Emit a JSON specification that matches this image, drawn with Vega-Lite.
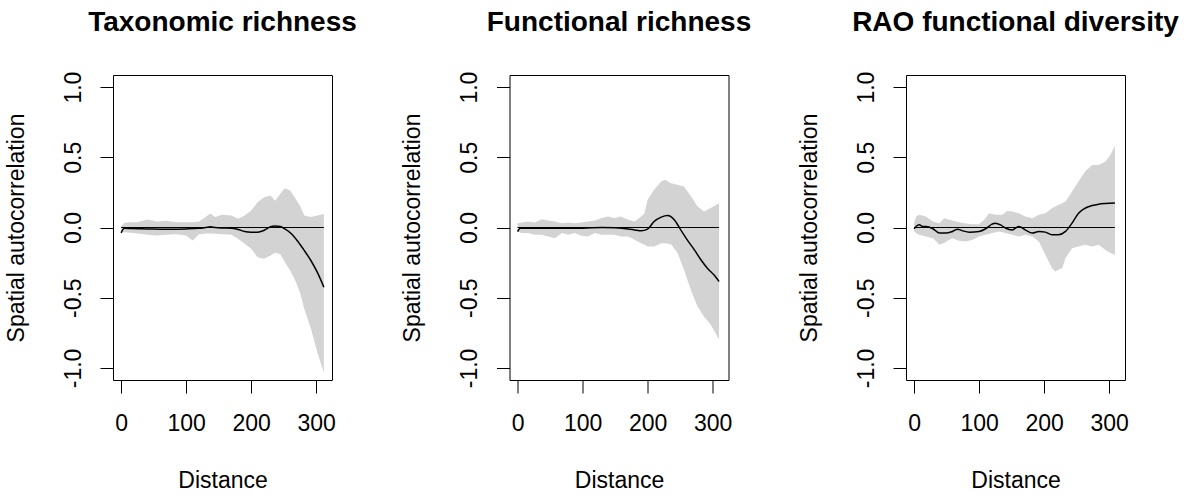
{
  "$schema": "https://vega.github.io/schema/vega-lite/v6.json",
  "background": "white",
  "padding": {"left": 4, "top": 8, "right": 5, "bottom": 5},
  "config": {
    "view": {"stroke": "black", "strokeWidth": 1},
    "font": "Liberation Sans",
    "axis": {
      "grid": false, "domain": false, "tickColor": "black", "tickWidth": 1, "tickSize": 13,
      "labelColor": "black", "titleColor": "black", "labelFont": "Liberation Sans", "titleFont": "Liberation Sans",
      "labelFontSize": 23, "titleFontSize": 23, "titleFontWeight": "normal", "labelFlush": false, "labelOverlap": false
    }
  },
  "datasets": {
    "band": [
      {"panel": "T", "distance": 0, "lower": -0.038, "upper": 0.01},
      {"panel": "T", "distance": 5, "lower": -0.033, "upper": 0.033},
      {"panel": "T", "distance": 15, "lower": -0.038, "upper": 0.038},
      {"panel": "T", "distance": 25, "lower": -0.043, "upper": 0.038},
      {"panel": "T", "distance": 40, "lower": -0.052, "upper": 0.057},
      {"panel": "T", "distance": 55, "lower": -0.057, "upper": 0.043},
      {"panel": "T", "distance": 70, "lower": -0.052, "upper": 0.048},
      {"panel": "T", "distance": 85, "lower": -0.048, "upper": 0.038},
      {"panel": "T", "distance": 100, "lower": -0.057, "upper": 0.038},
      {"panel": "T", "distance": 110, "lower": -0.093, "upper": 0.038},
      {"panel": "T", "distance": 120, "lower": -0.048, "upper": 0.043},
      {"panel": "T", "distance": 130, "lower": -0.043, "upper": 0.074},
      {"panel": "T", "distance": 137, "lower": -0.043, "upper": 0.1},
      {"panel": "T", "distance": 145, "lower": -0.045, "upper": 0.074},
      {"panel": "T", "distance": 155, "lower": -0.048, "upper": 0.09},
      {"panel": "T", "distance": 170, "lower": -0.052, "upper": 0.086},
      {"panel": "T", "distance": 180, "lower": -0.081, "upper": 0.062},
      {"panel": "T", "distance": 190, "lower": -0.116, "upper": 0.086},
      {"panel": "T", "distance": 200, "lower": -0.152, "upper": 0.12},
      {"panel": "T", "distance": 210, "lower": -0.211, "upper": 0.18},
      {"panel": "T", "distance": 220, "lower": -0.223, "upper": 0.216},
      {"panel": "T", "distance": 230, "lower": -0.2, "upper": 0.228},
      {"panel": "T", "distance": 237, "lower": -0.18, "upper": 0.19},
      {"panel": "T", "distance": 245, "lower": -0.19, "upper": 0.24},
      {"panel": "T", "distance": 252, "lower": -0.247, "upper": 0.28},
      {"panel": "T", "distance": 260, "lower": -0.306, "upper": 0.264},
      {"panel": "T", "distance": 267, "lower": -0.366, "upper": 0.216},
      {"panel": "T", "distance": 275, "lower": -0.46, "upper": 0.157},
      {"panel": "T", "distance": 282, "lower": -0.58, "upper": 0.086},
      {"panel": "T", "distance": 292, "lower": -0.72, "upper": 0.074},
      {"panel": "T", "distance": 302, "lower": -0.89, "upper": 0.086},
      {"panel": "T", "distance": 312, "lower": -1.03, "upper": 0.097},

      {"panel": "F", "distance": 0, "lower": -0.029, "upper": 0.031},
      {"panel": "F", "distance": 6, "lower": -0.04, "upper": 0.036},
      {"panel": "F", "distance": 16, "lower": -0.04, "upper": 0.043},
      {"panel": "F", "distance": 27, "lower": -0.052, "upper": 0.036},
      {"panel": "F", "distance": 37, "lower": -0.052, "upper": 0.059},
      {"panel": "F", "distance": 47, "lower": -0.064, "upper": 0.05},
      {"panel": "F", "distance": 57, "lower": -0.076, "upper": 0.043},
      {"panel": "F", "distance": 68, "lower": -0.04, "upper": 0.031},
      {"panel": "F", "distance": 78, "lower": -0.052, "upper": 0.036},
      {"panel": "F", "distance": 88, "lower": -0.04, "upper": 0.031},
      {"panel": "F", "distance": 98, "lower": -0.059, "upper": 0.036},
      {"panel": "F", "distance": 108, "lower": -0.064, "upper": 0.043},
      {"panel": "F", "distance": 119, "lower": -0.04, "upper": 0.05},
      {"panel": "F", "distance": 129, "lower": -0.052, "upper": 0.067},
      {"panel": "F", "distance": 139, "lower": -0.052, "upper": 0.078},
      {"panel": "F", "distance": 149, "lower": -0.052, "upper": 0.067},
      {"panel": "F", "distance": 159, "lower": -0.064, "upper": 0.078},
      {"panel": "F", "distance": 170, "lower": -0.064, "upper": 0.055},
      {"panel": "F", "distance": 180, "lower": -0.088, "upper": 0.043},
      {"panel": "F", "distance": 190, "lower": -0.112, "upper": 0.078},
      {"panel": "F", "distance": 195, "lower": -0.123, "upper": 0.1},
      {"panel": "F", "distance": 200, "lower": -0.135, "upper": 0.197},
      {"panel": "F", "distance": 210, "lower": -0.135, "upper": 0.268},
      {"panel": "F", "distance": 221, "lower": -0.112, "upper": 0.328},
      {"panel": "F", "distance": 227, "lower": -0.112, "upper": 0.34},
      {"panel": "F", "distance": 236, "lower": -0.12, "upper": 0.316},
      {"panel": "F", "distance": 246, "lower": -0.18, "upper": 0.304},
      {"panel": "F", "distance": 256, "lower": -0.3, "upper": 0.292},
      {"panel": "F", "distance": 267, "lower": -0.45, "upper": 0.22},
      {"panel": "F", "distance": 277, "lower": -0.565, "upper": 0.15},
      {"panel": "F", "distance": 287, "lower": -0.635, "upper": 0.114},
      {"panel": "F", "distance": 297, "lower": -0.69, "upper": 0.138},
      {"panel": "F", "distance": 310, "lower": -0.798, "upper": 0.173},

      {"panel": "R", "distance": 0, "lower": -0.028, "upper": 0.031},
      {"panel": "R", "distance": 3, "lower": -0.04, "upper": 0.078},
      {"panel": "R", "distance": 8, "lower": -0.052, "upper": 0.09},
      {"panel": "R", "distance": 18, "lower": -0.064, "upper": 0.078},
      {"panel": "R", "distance": 29, "lower": -0.076, "upper": 0.043},
      {"panel": "R", "distance": 39, "lower": -0.123, "upper": 0.031},
      {"panel": "R", "distance": 46, "lower": -0.11, "upper": 0.066},
      {"panel": "R", "distance": 54, "lower": -0.088, "upper": 0.055},
      {"panel": "R", "distance": 59, "lower": -0.076, "upper": 0.05},
      {"panel": "R", "distance": 69, "lower": -0.095, "upper": 0.038},
      {"panel": "R", "distance": 80, "lower": -0.1, "upper": 0.028},
      {"panel": "R", "distance": 90, "lower": -0.088, "upper": 0.024},
      {"panel": "R", "distance": 100, "lower": -0.064, "upper": 0.024},
      {"panel": "R", "distance": 110, "lower": -0.052, "upper": 0.066},
      {"panel": "R", "distance": 115, "lower": -0.046, "upper": 0.102},
      {"panel": "R", "distance": 120, "lower": -0.04, "upper": 0.097},
      {"panel": "R", "distance": 126, "lower": -0.034, "upper": 0.09},
      {"panel": "R", "distance": 131, "lower": -0.028, "upper": 0.09},
      {"panel": "R", "distance": 136, "lower": -0.034, "upper": 0.09},
      {"panel": "R", "distance": 143, "lower": -0.042, "upper": 0.118},
      {"panel": "R", "distance": 151, "lower": -0.052, "upper": 0.114},
      {"panel": "R", "distance": 161, "lower": -0.064, "upper": 0.102},
      {"panel": "R", "distance": 171, "lower": -0.052, "upper": 0.078},
      {"panel": "R", "distance": 182, "lower": -0.064, "upper": 0.066},
      {"panel": "R", "distance": 192, "lower": -0.1, "upper": 0.09},
      {"panel": "R", "distance": 202, "lower": -0.194, "upper": 0.102},
      {"panel": "R", "distance": 212, "lower": -0.289, "upper": 0.137},
      {"panel": "R", "distance": 217, "lower": -0.313, "upper": 0.15},
      {"panel": "R", "distance": 222, "lower": -0.3, "upper": 0.16},
      {"panel": "R", "distance": 228, "lower": -0.289, "upper": 0.173},
      {"panel": "R", "distance": 233, "lower": -0.218, "upper": 0.185},
      {"panel": "R", "distance": 243, "lower": -0.147, "upper": 0.256},
      {"panel": "R", "distance": 253, "lower": -0.135, "upper": 0.327},
      {"panel": "R", "distance": 263, "lower": -0.123, "upper": 0.398},
      {"panel": "R", "distance": 274, "lower": -0.135, "upper": 0.445},
      {"panel": "R", "distance": 284, "lower": -0.123, "upper": 0.445},
      {"panel": "R", "distance": 294, "lower": -0.159, "upper": 0.469},
      {"panel": "R", "distance": 302, "lower": -0.182, "upper": 0.517},
      {"panel": "R", "distance": 309, "lower": -0.194, "upper": 0.583}
    ],
    "line": [
      {"panel": "T", "distance": 0, "value": -0.038},
      {"panel": "T", "distance": 5, "value": -0.005},
      {"panel": "T", "distance": 15, "value": -0.008},
      {"panel": "T", "distance": 40, "value": -0.01},
      {"panel": "T", "distance": 70, "value": -0.012},
      {"panel": "T", "distance": 100, "value": -0.01},
      {"panel": "T", "distance": 120, "value": -0.006},
      {"panel": "T", "distance": 130, "value": 0.0},
      {"panel": "T", "distance": 137, "value": 0.005},
      {"panel": "T", "distance": 145, "value": 0.0},
      {"panel": "T", "distance": 155, "value": -0.003},
      {"panel": "T", "distance": 170, "value": -0.005},
      {"panel": "T", "distance": 180, "value": -0.014},
      {"panel": "T", "distance": 190, "value": -0.028},
      {"panel": "T", "distance": 200, "value": -0.033},
      {"panel": "T", "distance": 210, "value": -0.033},
      {"panel": "T", "distance": 220, "value": -0.02},
      {"panel": "T", "distance": 230, "value": 0.005},
      {"panel": "T", "distance": 237, "value": 0.01},
      {"panel": "T", "distance": 245, "value": 0.007},
      {"panel": "T", "distance": 252, "value": -0.01},
      {"panel": "T", "distance": 262, "value": -0.045},
      {"panel": "T", "distance": 272, "value": -0.1},
      {"panel": "T", "distance": 282, "value": -0.165},
      {"panel": "T", "distance": 292, "value": -0.235},
      {"panel": "T", "distance": 302, "value": -0.32},
      {"panel": "T", "distance": 312, "value": -0.425},

      {"panel": "F", "distance": 0, "value": -0.029},
      {"panel": "F", "distance": 4, "value": -0.005},
      {"panel": "F", "distance": 50, "value": -0.005},
      {"panel": "F", "distance": 100, "value": -0.005},
      {"panel": "F", "distance": 130, "value": 0.0},
      {"panel": "F", "distance": 150, "value": -0.002},
      {"panel": "F", "distance": 170, "value": -0.01},
      {"panel": "F", "distance": 180, "value": -0.017},
      {"panel": "F", "distance": 190, "value": -0.024},
      {"panel": "F", "distance": 200, "value": -0.012},
      {"panel": "F", "distance": 210, "value": 0.043},
      {"panel": "F", "distance": 221, "value": 0.074},
      {"panel": "F", "distance": 231, "value": 0.085},
      {"panel": "F", "distance": 241, "value": 0.055},
      {"panel": "F", "distance": 251, "value": -0.017},
      {"panel": "F", "distance": 261, "value": -0.088},
      {"panel": "F", "distance": 272, "value": -0.159},
      {"panel": "F", "distance": 282, "value": -0.23},
      {"panel": "F", "distance": 292, "value": -0.29},
      {"panel": "F", "distance": 302, "value": -0.337},
      {"panel": "F", "distance": 310, "value": -0.385},

      {"panel": "R", "distance": 0, "value": -0.009},
      {"panel": "R", "distance": 3, "value": 0.007},
      {"panel": "R", "distance": 8, "value": 0.019},
      {"panel": "R", "distance": 13, "value": 0.007},
      {"panel": "R", "distance": 18, "value": 0.007},
      {"panel": "R", "distance": 29, "value": -0.009},
      {"panel": "R", "distance": 39, "value": -0.04},
      {"panel": "R", "distance": 49, "value": -0.04},
      {"panel": "R", "distance": 59, "value": -0.028},
      {"panel": "R", "distance": 67, "value": -0.012},
      {"panel": "R", "distance": 75, "value": -0.024},
      {"panel": "R", "distance": 85, "value": -0.033},
      {"panel": "R", "distance": 100, "value": -0.028},
      {"panel": "R", "distance": 110, "value": -0.009},
      {"panel": "R", "distance": 120, "value": 0.024},
      {"panel": "R", "distance": 125, "value": 0.031},
      {"panel": "R", "distance": 133, "value": 0.019},
      {"panel": "R", "distance": 141, "value": -0.005},
      {"panel": "R", "distance": 151, "value": -0.017},
      {"panel": "R", "distance": 161, "value": 0.007},
      {"panel": "R", "distance": 171, "value": -0.017},
      {"panel": "R", "distance": 182, "value": -0.04},
      {"panel": "R", "distance": 192, "value": -0.028},
      {"panel": "R", "distance": 202, "value": -0.033},
      {"panel": "R", "distance": 212, "value": -0.052},
      {"panel": "R", "distance": 222, "value": -0.052},
      {"panel": "R", "distance": 233, "value": -0.028},
      {"panel": "R", "distance": 243, "value": 0.031},
      {"panel": "R", "distance": 253, "value": 0.102},
      {"panel": "R", "distance": 263, "value": 0.137},
      {"panel": "R", "distance": 274, "value": 0.156},
      {"panel": "R", "distance": 284, "value": 0.166},
      {"panel": "R", "distance": 294, "value": 0.171},
      {"panel": "R", "distance": 309, "value": 0.175}
    ]
  },
  "bounds": "flush",
  "spacing": 177.5,
  "hconcat": [
    {
      "width": 219, "height": 305,
      "title": {"text": "Taxonomic richness", "frame": "group", "anchor": "middle", "baseline": "alphabetic", "offset": 12.5, "fontSize": 28, "fontWeight": "bold", "font": "Liberation Sans", "color": "black"},
      "layer": [
        {
          "data": {"name": "band"}, "transform": [{"filter": "datum.panel == 'T'"}],
          "mark": {"type": "area", "color": "#d3d3d3", "opacity": 1},
          "encoding": {
            "x": {"field": "distance", "type": "quantitative", "scale": {"domain": [-12.5, 324.5], "nice": false, "zero": false},
              "axis": {"values": [0, 50, 100, 150, 200, 250, 300], "format": "d", "labelExpr": "datum.value % 100 === 0 ? datum.label : ''", "labelBaseline": "alphabetic", "labelPadding": 37, "title": "Distance", "titleX": 109.5, "titleY": 107, "titleAlign": "center", "titleBaseline": "alphabetic"}},
            "y": {"field": "lower", "type": "quantitative", "scale": {"domain": [-1.086, 1.086], "nice": false, "zero": false},
              "axis": {"values": [-1, -0.5, 0, 0.5, 1], "format": ".1f", "labelExpr": "replace(datum.label, '−', '-')", "labelAngle": 270, "labelAlign": "center", "labelBaseline": "alphabetic", "labelPadding": 20, "title": "Spatial autocorrelation", "titleAngle": 270, "titleX": -90, "titleY": 152.5, "titleAlign": "center", "titleBaseline": "alphabetic"}},
            "y2": {"field": "upper"}
          }
        },
        {
          "data": {"name": "line"}, "transform": [{"filter": "datum.panel == 'T'"}],
          "mark": {"type": "rule", "color": "black", "strokeWidth": 1},
          "encoding": {
            "x": {"aggregate": "min", "field": "distance", "type": "quantitative"},
            "x2": {"aggregate": "max", "field": "distance"},
            "y": {"datum": 0, "type": "quantitative"}
          }
        },
        {
          "data": {"name": "line"}, "transform": [{"filter": "datum.panel == 'T'"}],
          "mark": {"type": "line", "color": "black", "strokeWidth": 1.5, "interpolate": "monotone"},
          "encoding": {
            "x": {"field": "distance", "type": "quantitative"},
            "y": {"field": "value", "type": "quantitative", "axis": {"title": "Spatial autocorrelation"}}
          }
        }
      ]
    },
    {
      "width": 219, "height": 305,
      "title": {"text": "Functional richness", "frame": "group", "anchor": "middle", "baseline": "alphabetic", "offset": 12.5, "fontSize": 28, "fontWeight": "bold", "font": "Liberation Sans", "color": "black"},
      "layer": [
        {
          "data": {"name": "band"}, "transform": [{"filter": "datum.panel == 'F'"}],
          "mark": {"type": "area", "color": "#d3d3d3", "opacity": 1},
          "encoding": {
            "x": {"field": "distance", "type": "quantitative", "scale": {"domain": [-12.5, 324.5], "nice": false, "zero": false},
              "axis": {"values": [0, 50, 100, 150, 200, 250, 300], "format": "d", "labelExpr": "datum.value % 100 === 0 ? datum.label : ''", "labelBaseline": "alphabetic", "labelPadding": 37, "title": "Distance", "titleX": 109.5, "titleY": 107, "titleAlign": "center", "titleBaseline": "alphabetic"}},
            "y": {"field": "lower", "type": "quantitative", "scale": {"domain": [-1.086, 1.086], "nice": false, "zero": false},
              "axis": {"values": [-1, -0.5, 0, 0.5, 1], "format": ".1f", "labelExpr": "replace(datum.label, '−', '-')", "labelAngle": 270, "labelAlign": "center", "labelBaseline": "alphabetic", "labelPadding": 20, "title": "Spatial autocorrelation", "titleAngle": 270, "titleX": -90, "titleY": 152.5, "titleAlign": "center", "titleBaseline": "alphabetic"}},
            "y2": {"field": "upper"}
          }
        },
        {
          "data": {"name": "line"}, "transform": [{"filter": "datum.panel == 'F'"}],
          "mark": {"type": "rule", "color": "black", "strokeWidth": 1},
          "encoding": {
            "x": {"aggregate": "min", "field": "distance", "type": "quantitative"},
            "x2": {"aggregate": "max", "field": "distance"},
            "y": {"datum": 0, "type": "quantitative"}
          }
        },
        {
          "data": {"name": "line"}, "transform": [{"filter": "datum.panel == 'F'"}],
          "mark": {"type": "line", "color": "black", "strokeWidth": 1.5, "interpolate": "monotone"},
          "encoding": {
            "x": {"field": "distance", "type": "quantitative"},
            "y": {"field": "value", "type": "quantitative", "axis": {"title": "Spatial autocorrelation"}}
          }
        }
      ]
    },
    {
      "width": 219, "height": 305,
      "title": {"text": "RAO functional diversity", "frame": "group", "anchor": "middle", "baseline": "alphabetic", "offset": 12.5, "fontSize": 28, "fontWeight": "bold", "font": "Liberation Sans", "color": "black"},
      "layer": [
        {
          "data": {"name": "band"}, "transform": [{"filter": "datum.panel == 'R'"}],
          "mark": {"type": "area", "color": "#d3d3d3", "opacity": 1},
          "encoding": {
            "x": {"field": "distance", "type": "quantitative", "scale": {"domain": [-12.5, 324.5], "nice": false, "zero": false},
              "axis": {"values": [0, 50, 100, 150, 200, 250, 300], "format": "d", "labelExpr": "datum.value % 100 === 0 ? datum.label : ''", "labelBaseline": "alphabetic", "labelPadding": 37, "title": "Distance", "titleX": 109.5, "titleY": 107, "titleAlign": "center", "titleBaseline": "alphabetic"}},
            "y": {"field": "lower", "type": "quantitative", "scale": {"domain": [-1.086, 1.086], "nice": false, "zero": false},
              "axis": {"values": [-1, -0.5, 0, 0.5, 1], "format": ".1f", "labelExpr": "replace(datum.label, '−', '-')", "labelAngle": 270, "labelAlign": "center", "labelBaseline": "alphabetic", "labelPadding": 20, "title": "Spatial autocorrelation", "titleAngle": 270, "titleX": -90, "titleY": 152.5, "titleAlign": "center", "titleBaseline": "alphabetic"}},
            "y2": {"field": "upper"}
          }
        },
        {
          "data": {"name": "line"}, "transform": [{"filter": "datum.panel == 'R'"}],
          "mark": {"type": "rule", "color": "black", "strokeWidth": 1},
          "encoding": {
            "x": {"aggregate": "min", "field": "distance", "type": "quantitative"},
            "x2": {"aggregate": "max", "field": "distance"},
            "y": {"datum": 0, "type": "quantitative"}
          }
        },
        {
          "data": {"name": "line"}, "transform": [{"filter": "datum.panel == 'R'"}],
          "mark": {"type": "line", "color": "black", "strokeWidth": 1.5, "interpolate": "monotone"},
          "encoding": {
            "x": {"field": "distance", "type": "quantitative"},
            "y": {"field": "value", "type": "quantitative", "axis": {"title": "Spatial autocorrelation"}}
          }
        }
      ]
    }
  ]
}
